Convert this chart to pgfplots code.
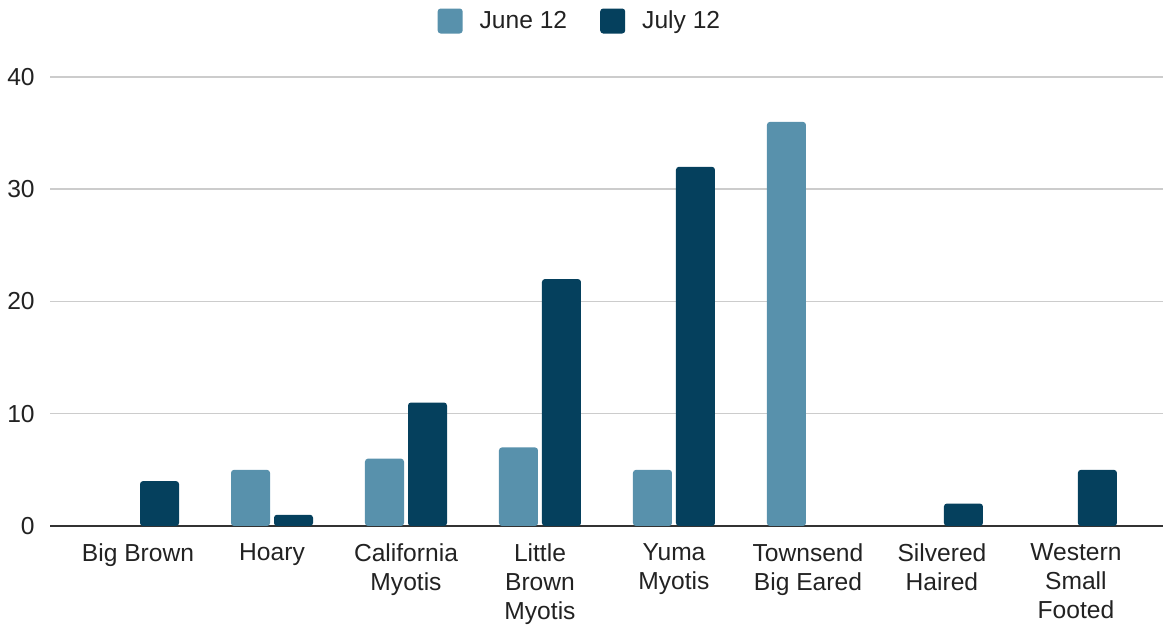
\documentclass[border=0pt]{standalone}
\usepackage{fontspec}
\setmainfont{Liberation Sans}
\usepackage{pgfplots}
\pgfplotsset{compat=1.18}
\definecolor{junecol}{RGB}{88,145,172}
\definecolor{julycol}{RGB}{5,64,93}
\definecolor{gridcol}{RGB}{204,204,204}
\definecolor{txtcol}{RGB}{34,34,34}

\begin{document}
\begin{tikzpicture}
\useasboundingbox (0,0) rectangle (581.5pt,312.5pt);
\begin{axis}[
    at={(25pt,49.5pt)}, anchor=south west,
    scale only axis,
    width=556.5pt, height=224.5pt,
    ybar=2pt, bar width=19.5pt,
    xmin=-0.657, xmax=7.65,
    ymin=0, ymax=40,
    ytick={0,10,20,30,40},
    xtick={0,...,7},
    xticklabels={Big Brown, Hoary, {California\\Myotis}, {Little\\Brown\\Myotis},
        {Yuma\\Myotis}, {Townsend\\Big Eared}, {Silvered\\Haired}, {Western\\Small\\Footed}},
    axis lines=left,
    x axis line style={-, draw=black!80, line width=1pt},
    y axis line style={draw=none},
    tick style={draw=none},
    ymajorgrids=true,
    grid style={gridcol, line width=0.75pt},
    font=\fontsize{12.3}{14.5}\selectfont,
    tick label style={text=txtcol},
    /pgf/number format/assume math mode=true,
    xticklabel style={align=center, yshift=-3pt},
    yticklabel style={xshift=-2pt},
    legend style={at={(0.477,1.1247)}, anchor=center, draw=none, legend columns=2,
        /tikz/every even column/.append style={column sep=14.5pt},
        text=txtcol},
    legend image code/.code={\fill[#1] (0pt,-6.25pt) rectangle (12.5pt,6.25pt);
        \path (19pt,0pt);},
    legend cell align=left,
]
\addplot[fill=junecol, draw=none, rounded corners=1.5pt] coordinates {
    (1,5) (2,6) (3,7) (4,5) (5,36)
};
\addlegendentry{June 12}
\addplot[fill=julycol, draw=none, rounded corners=1.5pt] coordinates {
    (0,4) (1,1) (2,11) (3,22) (4,32) (6,2) (7,5)
};
\addlegendentry{July 12}
\end{axis}
\end{tikzpicture}
\end{document}
